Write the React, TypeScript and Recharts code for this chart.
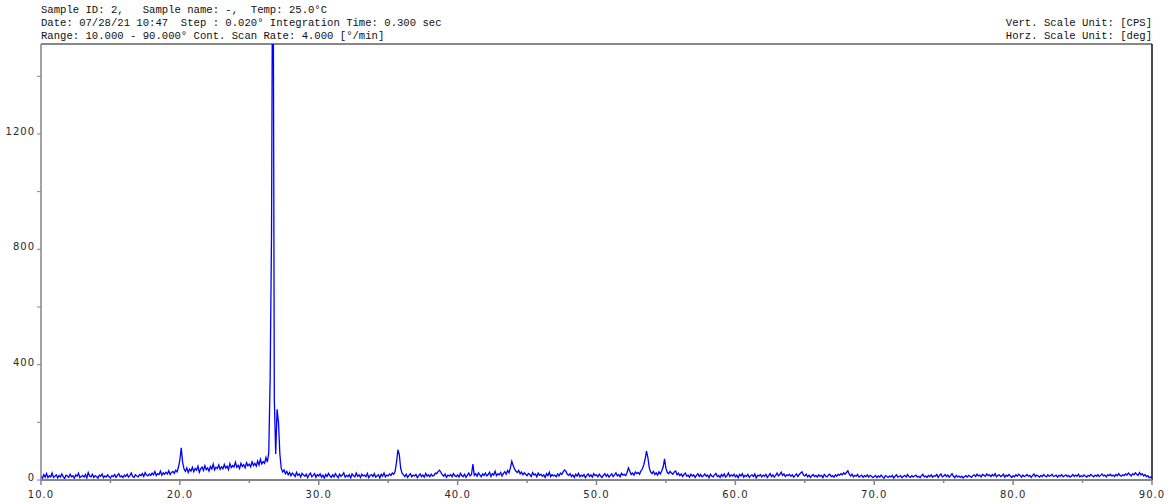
import React from 'react';
import { LineChart, Line, XAxis, YAxis, ReferenceLine } from 'recharts';

// XRD scan, 10.0 - 90.0 deg, every 0.1 deg
const ANGLE_START = 10;
const ANGLE_STEP = 0.1;

const cps10to20 = [
  14, 6, 19, 10, 22, 8, 15, 11, 24, 9,
  13, 18, 7, 16, 10, 21, 12, 5, 17, 14,
  9, 20, 11, 15, 6, 18, 13, 23, 8, 12,
  16, 10, 19, 7, 26, 14, 11, 20, 9, 15,
  12, 6, 17, 13, 21, 8, 14, 10, 18, 11,
  7, 15, 12, 19, 9, 16, 22, 11, 14, 8,
  17, 12, 20, 10, 15, 24, 13, 9, 18, 14,
  11, 19, 15, 22, 12, 26, 17, 14, 21, 16,
  24, 18, 29, 15, 22, 19, 31, 17, 25, 20,
  27, 21, 32, 19, 26, 30, 23, 34, 28, 45,
];

const cps20to30 = [
  70, 112, 60, 38, 30, 42, 26, 38, 31, 44,
  29, 40, 34, 48, 27, 39, 45, 33, 50, 36,
  42, 31, 47, 38, 55, 35, 44, 40, 52, 37,
  46, 39, 54, 41, 48, 36, 57, 43, 50, 45,
  62, 44, 51, 40, 58, 47, 53, 42, 60, 49,
  55, 46, 63, 50, 58, 48, 66, 52, 72, 56,
  64, 58, 78, 62, 95, 350, 855, 2200, 280, 90,
  245, 200, 90, 40, 28, 35, 22, 30, 18, 26,
  15, 24, 19, 12, 27, 16, 21, 10, 23, 17,
  13, 20, 8, 18, 24, 11, 16, 22, 9, 19,
];

const cps30to40 = [
  14, 21, 10, 17, 6, 19, 12, 23, 15, 9,
  18, 11, 22, 14, 8, 20, 13, 17, 25, 10,
  16, 12, 19, 7, 21, 15, 11, 24, 13, 18,
  9, 20, 14, 17, 11, 23, 8, 16, 19, 12,
  22, 10, 15, 18, 7, 20, 13, 24, 11, 17,
  14, 21, 16, 24, 20, 30, 62, 105, 88, 40,
  24, 18, 12, 20, 9, 16, 22, 11, 17, 14,
  19, 8, 15, 21, 12, 17, 10, 23, 13, 18,
  11, 20, 14, 16, 24, 22, 30, 34, 26, 18,
  13, 21, 9, 17, 14, 19, 11, 22, 15, 12,
];

const cps40to50 = [
  18, 10, 23, 15, 12, 20, 9, 17, 24, 14,
  19, 55, 16, 22, 13, 25, 18, 11, 21, 16,
  24, 14, 19, 27, 12, 22, 17, 30, 15, 21,
  18, 26, 14, 23, 29, 20, 33, 25, 42, 65,
  50, 38, 30, 26, 33, 21, 28, 18, 25, 20,
  15, 23, 19, 12, 26, 17, 21, 11, 24, 16,
  20, 13, 18, 9, 22, 15, 27, 12, 19, 14,
  17, 11, 21, 14, 24, 19, 28, 35, 30, 20,
  16, 22, 12, 18, 9, 20, 14, 23, 11, 17,
  13, 19, 8, 16, 21, 12, 18, 10, 22, 15,
];

const cps50to60 = [
  18, 11, 20, 14, 9, 17, 22, 13, 19, 10,
  16, 21, 12, 18, 25, 14, 19, 11, 23, 17,
  20, 15, 26, 42, 30, 19, 24, 17, 28, 22,
  26, 20, 32, 38, 52, 72, 100, 78, 42, 28,
  22, 30, 19, 25, 17, 28, 21, 32, 45, 73,
  40, 26, 22, 30, 24, 20, 28, 31, 18, 24,
  15, 21, 12, 19, 24, 13, 17, 10, 20, 14,
  18, 9, 16, 22, 12, 19, 11, 15, 21, 13,
  17, 8, 20, 14, 11, 18, 23, 12, 16, 9,
  19, 13, 21, 10, 15, 24, 12, 18, 14, 20,
];

const cps60to70 = [
  11, 17, 8, 19, 14, 22, 10, 16, 13, 20,
  9, 15, 18, 12, 21, 7, 16, 14, 19, 11,
  17, 13, 20, 9, 15, 22, 12, 18, 10, 16,
  24, 14, 19, 27, 16, 21, 12, 18, 15, 20,
  13, 18, 10, 16, 21, 12, 19, 24, 28, 17,
  14, 20, 11, 17, 9, 15, 19, 12, 16, 10,
  18, 13, 16, 8, 19, 14, 11, 17, 20, 12,
  15, 10, 18, 13, 20, 16, 22, 18, 25, 20,
  26, 32, 20, 14, 20, 11, 16, 13, 19, 10,
  14, 17, 9, 15, 12, 18, 10, 16, 13, 8,
];

const cps70to80 = [
  12, 16, 8, 14, 10, 17, 11, 6, 15, 13,
  9, 14, 11, 16, 7, 13, 18, 10, 12, 15,
  8, 13, 16, 10, 19, 12, 9, 15, 11, 14,
  17, 10, 13, 8, 15, 20, 11, 14, 9, 16,
  12, 18, 10, 15, 13, 19, 9, 16, 21, 11,
  14, 19, 12, 17, 10, 15, 22, 13, 8, 16,
  11, 14, 9, 13, 7, 12, 15, 10, 16, 13,
  9, 15, 18, 12, 20, 14, 17, 11, 19, 16,
  13, 21, 15, 18, 12, 19, 14, 22, 11, 16,
  18, 12, 15, 20, 10, 17, 13, 19, 14, 9,
];

const cps80to90 = [
  15, 11, 18, 13, 20, 16, 10, 17, 12, 14,
  19, 13, 16, 9, 15, 21, 12, 17, 14, 10,
  16, 12, 19, 14, 11, 18, 13, 15, 20, 12,
  14, 17, 10, 16, 13, 19, 11, 15, 18, 12,
  16, 10, 14, 19, 12, 17, 13, 20, 11, 15,
  12, 18, 14, 10, 16, 13, 19, 15, 11, 17,
  13, 19, 12, 16, 21, 14, 17, 11, 18, 15,
  20, 14, 17, 12, 19, 15, 22, 16, 13, 18,
  15, 21, 17, 24, 19, 14, 22, 18, 25, 20,
  16, 26, 18, 22, 14, 19, 12, 15, 8, 10, 6,
];

const xTicks = [10, 15, 20, 25, 30, 35, 40, 45, 50, 55, 60, 65, 70, 75, 80, 85, 90];
const yTicks = [0, 200, 400, 600, 800, 1000, 1200, 1400];
const yLabelled = [0, 400, 800, 1200];
const Y_MAX = 1512;

const headerLeft = [
  'Sample ID: 2,   Sample name: -,  Temp: 25.0°C',
  'Date: 07/28/21 10:47  Step : 0.020° Integration Time: 0.300 sec',
  'Range: 10.000 - 90.000° Cont. Scan Rate: 4.000 [°/min]',
];
const headerRight = ['Vert. Scale Unit: [CPS]', 'Horz. Scale Unit: [deg]'];

const cps = [
  ...cps10to20, ...cps20to30, ...cps30to40, ...cps40to50,
  ...cps50to60, ...cps60to70, ...cps70to80, ...cps80to90,
];
const data = cps.map((v, i) => ({
  angle: Math.round((ANGLE_START + i * ANGLE_STEP) * 10) / 10,
  cps: v,
}));

const axisGray = '#858585';
const labelStyle = { fontFamily: "'DejaVu Sans'", fontSize: 10, fill: '#2a2a2a', letterSpacing: 1 };

function XTick(props: any) {
  const { x, y, payload } = props;
  const major = payload.value % 10 === 0;
  return (
    <g>
      <line x1={x} x2={x} y1={y} y2={y + (major ? 5 : 3)} stroke={axisGray} strokeWidth={1.5} />
      {major && (
        <text x={x} y={y + 18} textAnchor="middle" {...labelStyle}>
          {payload.value.toFixed(1)}
        </text>
      )}
    </g>
  );
}

function YTick(props: any) {
  const { x, y, payload } = props;
  return (
    <g>
      <line x1={x - 4} x2={x} y1={y} y2={y} stroke={axisGray} strokeWidth={1} />
      {yLabelled.includes(payload.value) && (
        <text x={x - 6} y={y + 1} textAnchor="end" {...labelStyle}>
          {payload.value}
        </text>
      )}
    </g>
  );
}

export default function App() {
  return (
    <div style={{ position: 'absolute', left: 0, top: 0, width: 1172, height: 504, background: '#fff' }}>
      <svg width={1172} height={44} style={{ position: 'absolute', left: 0, top: 0 }}>
        {headerLeft.map((t, i) => (
          <text key={i} x={41} y={12.5 + i * 13} fontFamily="'Liberation Mono'" fontSize={10.6} fill="#111" xmlSpace="preserve" style={{ whiteSpace: 'pre' }}>
            {t}
          </text>
        ))}
        {headerRight.map((t, i) => (
          <text key={i} x={1152} y={25.5 + i * 13} textAnchor="end" fontFamily="'Liberation Mono'" fontSize={10.6} fill="#111">
            {t}
          </text>
        ))}
      </svg>
      <LineChart width={1172} height={504} data={data} margin={{ top: 44, right: 20, left: 0, bottom: 0 }}>
        <XAxis
          type="number"
          dataKey="angle"
          domain={[10, 90]}
          ticks={xTicks}
          interval={0}
          height={24}
          tickSize={0}
          tickMargin={0}
          tickLine={false}
          tick={<XTick />}
          axisLine={{ stroke: axisGray, strokeWidth: 2 }}
          allowDataOverflow
        />
        <YAxis
          type="number"
          domain={[0, Y_MAX]}
          ticks={yTicks}
          interval={0}
          width={41}
          tickSize={0}
          tickMargin={0}
          tickLine={false}
          tick={<YTick />}
          axisLine={{ stroke: axisGray, strokeWidth: 1.5 }}
          allowDataOverflow
        />
        <ReferenceLine y={Y_MAX} stroke="#111" strokeWidth={1} />
        <ReferenceLine x={90} stroke="#111" strokeWidth={1.5} />
        <Line type="linear" dataKey="cps" stroke="#0000ff" strokeWidth={1.3} dot={false} isAnimationActive={false} />
      </LineChart>
    </div>
  );
}
